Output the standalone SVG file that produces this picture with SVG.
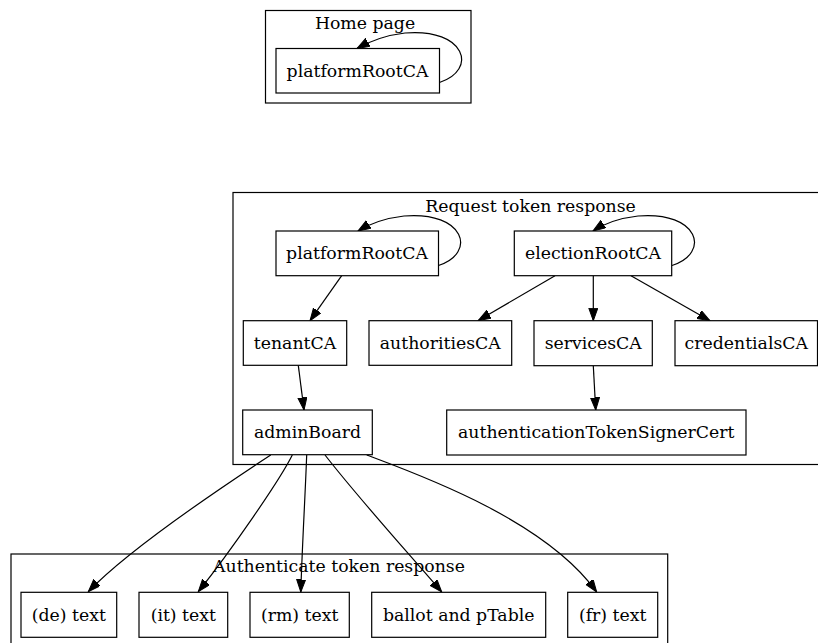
<svg xmlns="http://www.w3.org/2000/svg" width="818" height="643" viewBox="0 0 818 643">
<defs>
<marker id="ah" markerUnits="userSpaceOnUse" markerWidth="14" markerHeight="10" refX="12.5" refY="4.5" orient="auto">
<path d="M0,0 L12.5,4.5 L0,9 z" fill="#000" stroke="#000" stroke-width="1"/>
</marker>
<style>
.cl{fill:none;stroke:#000;stroke-width:1.2}
.nd{fill:#fff;stroke:#000;stroke-width:1.2}
text{font-family:"DejaVu Serif",serif;font-size:17.3px;fill:#000;text-anchor:middle}
.e{fill:none;stroke:#000;stroke-width:1.2;marker-end:url(#ah)}
</style>
</defs>
<rect width="818" height="643" fill="#fff"/>
<g id="cluster_home">
<rect class="cl" x="265.5" y="10.5" width="205.5" height="92.5"/>
<text x="365" y="28.5">Home page</text>
</g>
<g id="cluster_request">
<rect class="cl" x="233" y="192.5" width="600" height="272"/>
<text x="530.5" y="211.5">Request token response</text>
</g>
<g id="cluster_auth">
<rect class="cl" x="11" y="554" width="656.7" height="120"/>
<text x="339" y="571.5">Authenticate token response</text>
</g>
<g id="edges">
<path class="e" d="M439.5,82.5 C478,70 466,28 405,33 C388,35 372,40 357,48.5"/>
<path class="e" d="M438.5,265.5 C477,253 465,211 404,216 C387,218 371,223 358,231"/>
<path class="e" d="M672,265.5 C711,253 699,211 638,216 C621,218 605,223 593,231"/>
<path class="e" d="M341.7,275.7 L310,320.7"/>
<path class="e" d="M555,275.7 L478.3,320.5"/>
<path class="e" d="M593.3,275.7 L593.3,320.7"/>
<path class="e" d="M631,275.7 L710,320.7"/>
<path class="e" d="M298.3,365.3 L304,410"/>
<path class="e" d="M593.3,365.7 L595.7,410"/>
<path class="e" d="M270.7,455 C225,485 130,548 88.3,591.7"/>
<path class="e" d="M292.3,455 C280,480 230,552 198.3,591.7"/>
<path class="e" d="M306.7,455 C305,500 302,550 300.8,592"/>
<path class="e" d="M325,455 C360,500 410,555 441.7,592"/>
<path class="e" d="M366.7,455 C420,475 545,520 596.7,592"/>
</g>
<g id="home_platformRootCA">
<rect class="nd" x="276" y="48.5" width="163.5" height="44.5"/>
<text x="357.5" y="76.5">platformRootCA</text>
</g>
<g id="platformRootCA">
<rect class="nd" x="276" y="231" width="162.5" height="44.7"/>
<text x="357" y="259.2">platformRootCA</text>
</g>
<g id="electionRootCA">
<rect class="nd" x="514.3" y="231" width="157.4" height="44.7"/>
<text x="593" y="259.2">electionRootCA</text>
</g>
<g id="tenantCA">
<rect class="nd" x="243.3" y="320.7" width="103.4" height="44.6"/>
<text x="295" y="349">tenantCA</text>
</g>
<g id="authoritiesCA">
<rect class="nd" x="369" y="320.7" width="142.7" height="44.6"/>
<text x="440.3" y="349">authoritiesCA</text>
</g>
<g id="servicesCA">
<rect class="nd" x="534" y="320.7" width="118.3" height="45"/>
<text x="593.2" y="349">servicesCA</text>
</g>
<g id="credentialsCA">
<rect class="nd" x="675" y="320.7" width="142.5" height="45"/>
<text x="746.3" y="349">credentialsCA</text>
</g>
<g id="adminBoard">
<rect class="nd" x="242.7" y="410" width="129.6" height="44.7"/>
<text x="307.5" y="438.3">adminBoard</text>
</g>
<g id="authenticationTokenSignerCert">
<rect class="nd" x="446.7" y="410" width="299.3" height="45"/>
<text x="596.3" y="438.3">authenticationTokenSignerCert</text>
</g>
<g id="de_text">
<rect class="nd" x="21" y="592.3" width="95.7" height="45"/>
<text x="68.8" y="620.5">(de) text</text>
</g>
<g id="it_text">
<rect class="nd" x="139" y="592.3" width="88.7" height="45"/>
<text x="183.3" y="620.5">(it) text</text>
</g>
<g id="rm_text">
<rect class="nd" x="250" y="592.3" width="99.3" height="45"/>
<text x="299.7" y="620.5">(rm) text</text>
</g>
<g id="ballot">
<rect class="nd" x="371.7" y="592.3" width="174" height="45"/>
<text x="458.7" y="620.5">ballot and pTable</text>
</g>
<g id="fr_text">
<rect class="nd" x="567.7" y="592.3" width="90" height="45"/>
<text x="612.7" y="620.5">(fr) text</text>
</g>
</svg>
